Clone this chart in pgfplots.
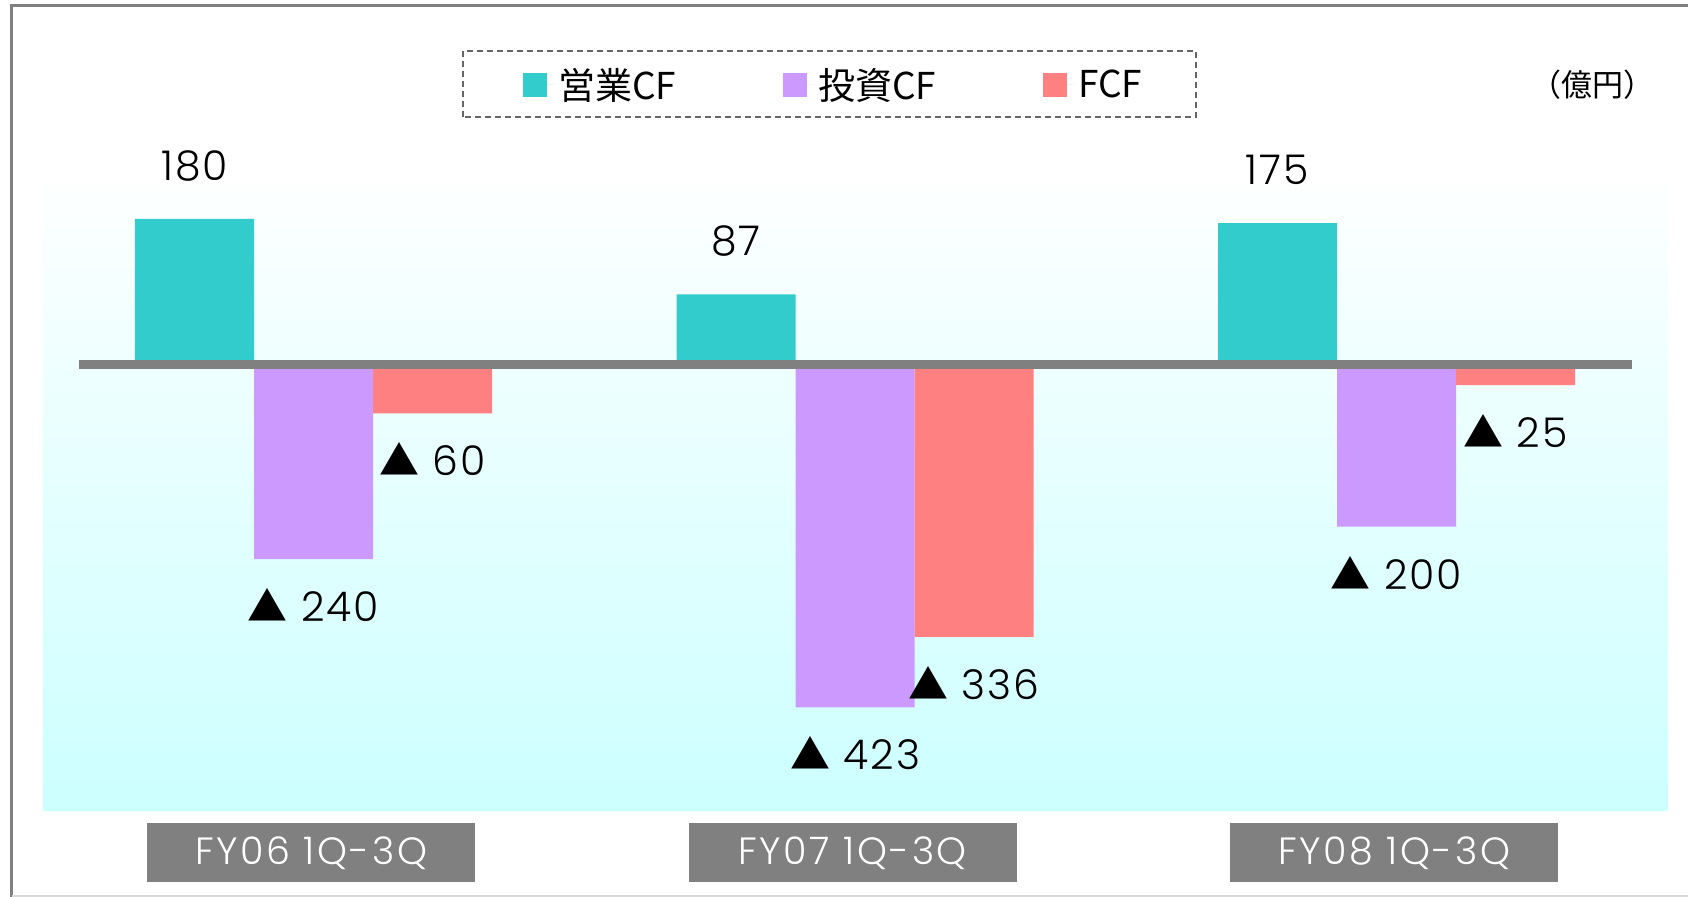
\documentclass[border=0pt]{standalone}
\usepackage{fontspec}
\setmainfont{Poppins Light}
\newfontfamily\cjk{Noto Sans CJK JP}
\usepackage{pgfplots}
\pgfplotsset{compat=1.18}
\definecolor{cfop}{HTML}{33CCCC}
\definecolor{cfinv}{HTML}{CC99FF}
\definecolor{cffree}{HTML}{FF8080}
\definecolor{zline}{HTML}{808080}
\definecolor{bgtop}{HTML}{FDFFFF}
\definecolor{bgbot}{HTML}{CCFFFF}
\protected\def\tri{{\cjk\fontsize{20}{20}\selectfont ▲}}
\begin{document}
\begin{tikzpicture}
\useasboundingbox (0,0) rectangle (844pt,448.5pt);
\draw[zline, line width=1.5pt] (5.75pt,0) -- (5.75pt,445.75pt) -- (844pt,445.75pt);
\draw[black!15, line width=1pt] (5.75pt,0.5pt) -- (844pt,0.5pt);
\draw[black!60, line width=0.6pt, dash pattern=on 3pt off 2pt] (231.5pt,390pt) rectangle (598pt,423pt);
\begin{axis}[
  at={(21.4pt,43pt)}, anchor=south west,
  scale only axis, width=812.25pt, height=313pt,
  xmin=-0.5, xmax=2.5, ymin=-551, ymax=222,
  axis line style={draw=none},
  axis background/.style={top color=bgtop, bottom color=bgbot},
  xtick={0,1,2}, xticklabels={FY06 1Q-3Q, FY07 1Q-3Q, FY08 1Q-3Q},
  major tick length=0pt, ytick=\empty,
  xticklabel style={anchor=north, fill=zline, text=white, inner sep=0pt,
    minimum width=164pt, minimum height=29.5pt, yshift=-6pt, xshift=-1.2pt,
    font=\addfontfeature{LetterSpace=7}\fontsize{19}{19}\selectfont},
  ybar, bar width=59.5pt,
  clip=false,
  legend image code/.code={\fill[#1] (0pt,-6pt) rectangle (12pt,6pt); \path (0pt,0pt) -- (15.5pt,0pt);},
  legend style={at={(0.2955,1.1597)}, anchor=west, draw=none, fill=none,
    inner xsep=0pt, inner ysep=2pt,
    font=\cjk\fontsize{18.5}{18.5}\selectfont,
    /tikz/every even column/.append style={column sep=51.5pt}},
  legend columns=3,
]
\addplot+[fill=cfop, draw=none, bar shift=-59.5pt,
  point meta=explicit symbolic, nodes near coords,
  every node near coord/.append style={anchor=center, yshift=26.5pt, text=black,
    font=\addfontfeature{LetterSpace=5}\fontsize{20.5}{20.5}\selectfont}]
  coordinates {(0,180) [180] (1,87) [87] (2,175) [175]};
\addlegendentry{営業CF}
\addplot+[fill=cfinv, draw=none, bar shift=0pt,
  point meta=explicit symbolic, nodes near coords,
  every node near coord/.append style={anchor=center, yshift=-23pt, text=black,
    font=\addfontfeature{LetterSpace=5}\fontsize{20.5}{20.5}\selectfont}]
  coordinates {(0,-240) [\tri\ 240] (1,-423) [\tri\ 423] (2,-200) [\tri\ 200]};
\addlegendentry{投資CF}
\addplot+[fill=cffree, draw=none, bar shift=59.5pt,
  point meta=explicit symbolic, nodes near coords,
  every node near coord/.append style={anchor=center, yshift=-23pt, text=black,
    font=\addfontfeature{LetterSpace=5}\fontsize{20.5}{20.5}\selectfont}]
  coordinates {(0,-60) [\tri\ 60] (1,-336) [\tri\ 336] (2,-25) [\tri\ 25]};
\addlegendentry{FCF}
\addplot[sharp plot, zline, line width=4.5pt, mark=none, forget plot]
  coordinates {(-0.433,0) (2.434,0)};
\end{axis}
\node[font=\cjk\fontsize{15.5}{15.5}\selectfont] at (796pt,406pt) {（億円）};
\end{tikzpicture}
\end{document}
